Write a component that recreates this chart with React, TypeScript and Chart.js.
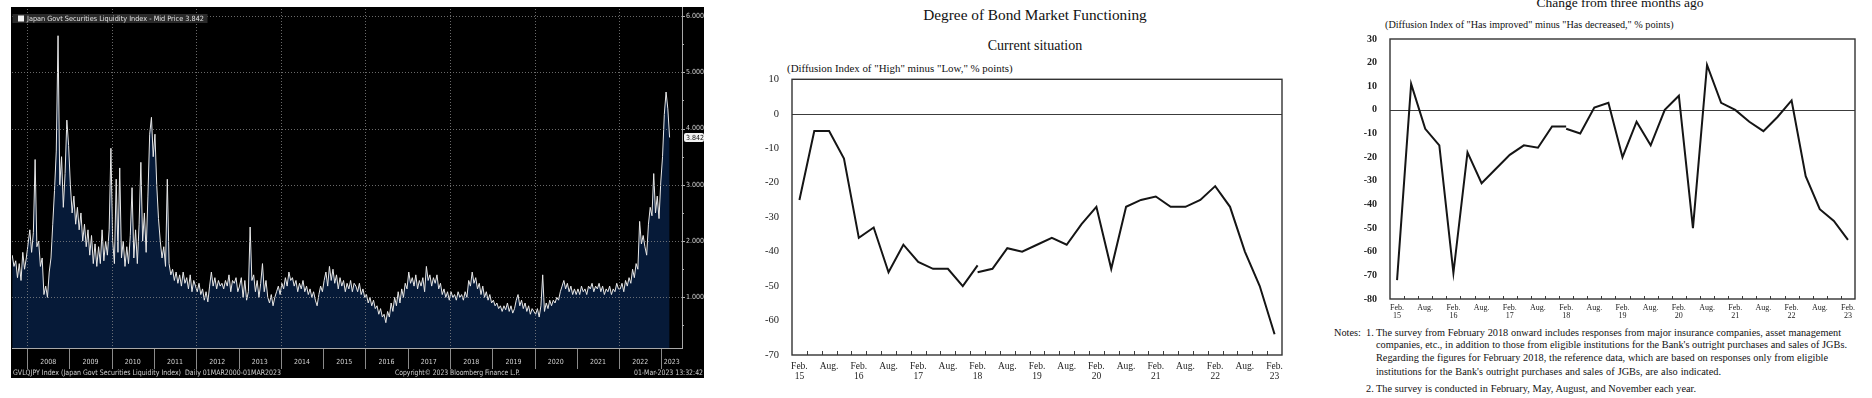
import React, { useEffect, useRef } from "react";
import { Chart, registerables } from "chart.js";

Chart.register(...registerables);

const SERIF = "'Liberation Serif', 'Times New Roman', serif";
const NARROW = "'Liberation Sans Narrow', 'DejaVu Sans Condensed', 'Liberation Sans', sans-serif";

// ---------- Panel 1: Bloomberg JGB liquidity index (semi-monthly readings) ----------
const LIQ_START = 2007.65;
const LIQ_STEP = 1 / 24;
const liquidityIndex = [
  1.75, 1.55, 1.65, 1.35, 1.6, 1.3, 1.8, 1.5, 1.7,
  1.95, 2.2, 1.8, 2.15, 3.45, 1.9, 2.0, 1.55, 1.7, 1.05, 1.2, 1.0, 1.45, 1.7, 2.3, 2.9, 3.6, 5.65, 3.0, 3.5, 2.6, 3.2, 4.15, 3.7,
  3.0, 2.5, 2.8, 2.3, 2.6, 2.2, 2.5, 2.0, 2.3, 1.9, 2.2, 1.75, 2.1, 1.6, 1.95, 1.55, 1.9, 1.6, 2.2, 1.65, 2.0, 1.75, 2.2, 3.65,
  2.0, 1.6, 3.1, 1.8, 3.3, 1.7, 2.0, 1.55, 1.9, 1.6, 2.1, 2.95, 1.7, 2.2, 1.6, 2.3, 3.4, 2.0, 2.5, 1.8, 2.8, 3.9, 4.2, 3.5,
  3.9, 3.0, 2.4, 2.0, 1.7, 1.9, 1.55, 3.1, 1.6, 1.4, 1.5, 1.3, 1.45, 1.25, 1.4, 1.2, 1.45, 1.25, 1.35, 1.15, 1.4, 1.1, 1.3, 1.2,
  1.1, 1.25, 1.05, 1.15, 0.95, 1.1, 0.92, 1.2, 1.45, 1.2, 1.35, 1.15, 1.3, 1.2, 1.25, 1.15, 1.3, 1.2, 1.4, 1.1, 1.3, 1.25, 1.35, 1.1,
  1.2, 1.35, 1.0, 1.3, 0.95, 1.1, 2.25, 1.3, 1.4, 1.1, 1.3, 1.0, 1.25, 1.6, 1.1, 1.3, 1.0, 0.9, 1.05, 0.85, 1.0, 1.1, 1.2, 1.05,
  1.25, 1.15, 1.35, 1.2, 1.45, 1.3, 1.35, 1.2, 1.3, 1.1, 1.25, 1.15, 1.3, 1.1, 1.2, 1.05, 1.15, 1.0, 1.1, 0.95, 0.85, 1.05, 1.2, 1.1,
  1.3, 1.45, 1.2, 1.55, 1.3, 1.5, 1.25, 1.4, 1.15, 1.35, 1.2, 1.3, 1.1, 1.25, 1.15, 1.3, 1.1, 1.25, 1.2, 1.1, 1.25, 1.05, 1.15, 1.0,
  1.05, 0.9, 1.0, 0.85, 0.95, 0.8, 0.85, 0.7, 0.8, 0.65, 0.7, 0.55, 0.75, 0.65, 0.9, 0.75, 1.0, 0.85, 1.1, 0.9, 1.15, 1.0, 1.25, 1.15,
  1.45, 1.25, 1.35, 1.2, 1.4, 1.15, 1.3, 1.2, 1.35, 1.1, 1.55, 1.3, 1.4, 1.2, 1.35, 1.25, 1.4, 1.15, 1.25, 1.05, 1.15, 1.0, 1.1, 0.95,
  1.1, 1.0, 1.05, 0.95, 1.1, 1.0, 1.05, 0.95, 1.1, 1.0, 1.3, 1.2, 1.45, 1.25, 1.35, 1.15, 1.25, 1.05, 1.2, 1.0, 1.1, 0.95, 1.05, 0.9,
  0.95, 0.85, 0.9, 0.8, 0.85, 0.75, 0.85, 0.78, 0.9, 0.75, 0.85, 0.72, 0.8, 0.95, 1.05, 0.85, 0.95, 0.8, 0.9, 0.75, 0.85, 0.7, 0.8, 0.75,
  0.7, 0.8, 0.65, 0.85, 1.4, 0.75, 0.9, 0.8, 0.95, 0.85, 0.95, 0.9, 1.0, 0.95, 1.1, 1.2, 1.3, 1.15, 1.25, 1.1, 1.2, 1.05, 1.15, 1.05,
  1.15, 1.05, 1.2, 1.1, 1.15, 1.05, 1.2, 1.15, 1.25, 1.1, 1.2, 1.15, 1.25, 1.1, 1.2, 1.05, 1.15, 1.1, 1.2, 1.05, 1.15, 1.1, 1.25, 1.15,
  1.15, 1.25, 1.1, 1.3, 1.2, 1.35, 1.25, 1.5, 1.35, 1.6, 1.5, 2.35, 1.95, 2.1, 1.9, 1.75, 2.3, 2.6, 2.45, 3.2, 2.5, 2.8, 2.4, 3.05, 3.5, 4.25, 4.65, 4.35, 3.842,
];
const LIQ_LAST = 3.842;
const liqYTicks = [1, 2, 3, 4, 5, 6];
const liqMinorTicks = [0.5, 1.5, 2.5, 3.5, 4.5, 5.5];
const liqYears = [2008, 2009, 2010, 2011, 2012, 2013, 2014, 2015, 2016, 2017, 2018, 2019, 2020, 2021, 2022, 2023];
const liqGridYears = [2008, 2010, 2012, 2014, 2016, 2018, 2020, 2022];
const LIQ_X_MIN = 2007.645;
const LIQ_X_MAX = 2023.485;
const liqLegend = "Japan Govt Securities Liquidity Index - Mid Price 3.842";
const liqFooterLeft = "GVLQJPY Index (Japan Govt Securities Liquidity Index)  Daily 01MAR2000-01MAR2023";
const liqFooterMid = "Copyright\u00A9 2023 Bloomberg Finance L.P.";
const liqFooterRight = "01-Mar-2023 13:32:42";

// ---------- Panels 2 & 3: Bank of Japan bond market survey ----------
const surveyTickLabels: (string | string[])[] = [
  ["Feb.", "15"], "", "Aug.", "",
  ["Feb.", "16"], "", "Aug.", "",
  ["Feb.", "17"], "", "Aug.", "",
  ["Feb.", "18"], "", "Aug.", "",
  ["Feb.", "19"], "", "Aug.", "",
  ["Feb.", "20"], "", "Aug.", "",
  ["Feb.", "21"], "", "Aug.", "",
  ["Feb.", "22"], "", "Aug.", "",
  ["Feb.", "23"],
];
const BASIS_BREAK = 12; // Feb. 2018

// Current situation: Feb.15 .. Feb.18 (old basis), Feb.18 .. Feb.23 (new basis)
const currentOld = [-25, -5, -5, -13, -36, -33, -46, -38, -43, -45, -45, -50, -44];
const currentNew = [-46, -45, -39, -40, -38, -36, -38, -32, -27, -45, -27, -25, -24, -27, -27, -25, -21, -27, -40, -50, -64];

// Change from three months ago
const changeOld = [-72, 11, -8, -15, -69, -18, -31, -25, -19, -15, -16, -7, -7];
const changeNew = [-8, -10, 1, 3, -20, -5, -15, 0, 6, -50, 19, 3, 0, -5, -9, -3, 4, -28, -42, -47, -55];

const notesLines = [
  "The survey from February 2018 onward includes responses from major insurance companies, asset  management",
  "companies, etc., in addition to those from eligible institutions for the Bank's outright purchases and sales of JGBs.",
  "Regarding the figures for February 2018, the reference data, which are based on responses only from eligible",
  "institutions for the Bank's outright purchases and sales of JGBs, are also indicated.",
];
const note2 = "The survey is conducted in February, May, August, and November each year.";

// ---------- Components ----------
function fitText(ctx: CanvasRenderingContext2D, text: string, x: number, y: number, width: number) {
  const w = ctx.measureText(text).width || 1;
  ctx.save();
  ctx.translate(x, y);
  ctx.scale(width / w, 1);
  ctx.textAlign = "left";
  ctx.fillText(text, 0, 0);
  ctx.restore();
}

function LiquidityChart() {
  const ref = useRef<HTMLCanvasElement>(null);
  useEffect(() => {
    const canvas = ref.current!;
    const points = liquidityIndex.map((v, i) => ({ x: LIQ_START + i * LIQ_STEP, y: v }));

    const bg = {
      id: "bbgBg",
      beforeDraw(chart: any) {
        const ctx = chart.ctx;
        ctx.save();
        ctx.fillStyle = "#000";
        ctx.fillRect(0, 0, chart.width, chart.height);
        ctx.restore();
      },
    };

    const axes = {
      id: "bbgAxes",
      afterDatasetsDraw(chart: any) {
        const { ctx, chartArea: ca, scales } = chart;
        const xs = scales.x;
        const ys = scales.y;
        ctx.save();
        // dotted grid
        ctx.strokeStyle = "rgba(140,140,140,0.75)";
        ctx.lineWidth = 1;
        ctx.setLineDash([1, 2]);
        ctx.beginPath();
        liqYTicks.forEach((v) => {
          const y = Math.round(ys.getPixelForValue(v)) + 0.5;
          ctx.moveTo(ca.left, y);
          ctx.lineTo(ca.right, y);
        });
        liqGridYears.forEach((yr) => {
          const x = Math.round(xs.getPixelForValue(yr)) + 0.5;
          ctx.moveTo(x, ca.top);
          ctx.lineTo(x, ca.bottom);
        });
        ctx.stroke();
        ctx.setLineDash([]);

        // axis lines
        ctx.strokeStyle = "#a8a8a8";
        ctx.beginPath();
        ctx.moveTo(Math.round(ca.right) + 0.5, 0);
        ctx.lineTo(Math.round(ca.right) + 0.5, ca.bottom + 1);
        ctx.moveTo(ca.left, Math.round(ca.bottom) + 0.5);
        ctx.lineTo(ca.right, Math.round(ca.bottom) + 0.5);
        ctx.stroke();

        // year separators + labels
        ctx.strokeStyle = "#8a8a8a";
        ctx.beginPath();
        liqYears.forEach((yr) => {
          const x = Math.round(xs.getPixelForValue(yr)) + 0.5;
          ctx.moveTo(x, ca.bottom + 1);
          ctx.lineTo(x, ca.bottom + 21);
        });
        ctx.stroke();
        ctx.fillStyle = "#d0d0d0";
        ctx.font = `7px ${NARROW}`;
        ctx.textAlign = "center";
        ctx.textBaseline = "middle";
        liqYears.forEach((yr) => {
          const end = Math.min(yr + 1, LIQ_X_MAX);
          const cx = (xs.getPixelForValue(yr) + xs.getPixelForValue(end)) / 2;
          ctx.fillText(String(yr), cx, ca.bottom + 14);
        });

        // footer
        ctx.font = `7.5px ${NARROW}`;
        fitText(ctx, liqFooterLeft, 2, chart.height - 5, 268);
        fitText(ctx, liqFooterMid, 384, chart.height - 5, 125);
        fitText(ctx, liqFooterRight, 623, chart.height - 5, 69);

        // right axis ticks and labels
        ctx.strokeStyle = "#b0b0b0";
        ctx.beginPath();
        liqYTicks.forEach((v) => {
          const y = Math.round(ys.getPixelForValue(v)) + 0.5;
          ctx.moveTo(ca.right, y);
          ctx.lineTo(ca.right + 3, y);
        });
        liqMinorTicks.forEach((v) => {
          const y = Math.round(ys.getPixelForValue(v)) + 0.5;
          ctx.moveTo(ca.right, y);
          ctx.lineTo(ca.right + 2, y);
        });
        ctx.stroke();
        ctx.font = `7px ${NARROW}`;
        ctx.textAlign = "left";
        ctx.fillStyle = "#d0d0d0";
        liqYTicks.forEach((v) => {
          ctx.fillText(v.toFixed(3), ca.right + 4, ys.getPixelForValue(v));
        });

        // last price badge
        const by = ys.getPixelForValue(LIQ_LAST);
        ctx.fillStyle = "#f2f2f2";
        ctx.beginPath();
        (ctx as any).roundRect(ca.right + 2, by - 4.5, 20, 9, 2);
        ctx.fill();
        ctx.fillStyle = "#111";
        ctx.fillText(LIQ_LAST.toFixed(3), ca.right + 4, by + 0.5);

        // legend
        ctx.fillStyle = "#2a2a2a";
        ctx.fillRect(1.5, 7, 195, 9);
        ctx.fillStyle = "#f4f4f4";
        ctx.fillRect(7, 8.5, 6, 6);
        ctx.fillStyle = "#e2e2e2";
        ctx.font = `7.2px ${NARROW}`;
        fitText(ctx, liqLegend, 16, 11.8, 177);
        ctx.restore();
      },
    };

    const chart = new Chart(canvas, {
      type: "line",
      data: {
        datasets: [
          {
            data: points,
            borderColor: "#e8e8e8",
            borderWidth: 1,
            backgroundColor: "#061a38",
            fill: "start",
            pointRadius: 0,
            tension: 0,
          },
        ],
      },
      options: {
        responsive: false,
        maintainAspectRatio: false,
        animation: false,
        layout: { padding: { left: 1, top: 2, right: 22, bottom: 30 } },
        plugins: { legend: { display: false }, tooltip: { enabled: false } },
        scales: {
          x: { type: "linear", min: LIQ_X_MIN, max: LIQ_X_MAX, display: false },
          y: { type: "linear", min: 0.1, max: 6.125, display: false },
        },
      },
      plugins: [bg, axes],
    } as any);
    return () => chart.destroy();
  }, []);
  return (
    <canvas
      ref={ref}
      width={693}
      height={371}
      style={{ position: "absolute", left: 11, top: 7, width: 693, height: 371 }}
    />
  );
}

type DIProps = {
  left: number;
  top: number;
  width: number;
  height: number;
  padTop: number;
  padRight: number;
  yWidth: number;
  xHeight: number;
  min: number;
  max: number;
  oldVals: number[];
  newVals: number[];
  yFont: any;
  xFont: any;
  xPad: number;
  tickLen: number;
};

function DIChart(p: DIProps) {
  const ref = useRef<HTMLCanvasElement>(null);
  useEffect(() => {
    const canvas = ref.current!;
    const n = surveyTickLabels.length;
    const oldSeries = surveyTickLabels.map((_, i) => (i < p.oldVals.length ? p.oldVals[i] : null));
    const newSeries = surveyTickLabels.map((_, i) => (i >= BASIS_BREAK ? p.newVals[i - BASIS_BREAK] : null));

    const frame = {
      id: "frame",
      beforeDatasetsDraw(chart: any) {
        const { ctx, chartArea: ca, scales } = chart;
        ctx.save();
        ctx.strokeStyle = "#3c3c3c";
        ctx.lineWidth = 1;
        const y0 = Math.round(scales.y.getPixelForValue(0)) + 0.5;
        ctx.beginPath();
        ctx.moveTo(ca.left, y0);
        ctx.lineTo(ca.right, y0);
        ctx.stroke();
        ctx.beginPath();
        for (let i = 0; i < n - 1; i++) {
          const x = Math.round((scales.x.getPixelForValue(i) + scales.x.getPixelForValue(i + 1)) / 2) + 0.5;
          ctx.moveTo(x, ca.bottom);
          ctx.lineTo(x, ca.bottom - p.tickLen);
        }
        ctx.stroke();
        ctx.lineWidth = 1.4;
        ctx.strokeStyle = "#333";
        ctx.strokeRect(ca.left, ca.top, ca.right - ca.left, ca.bottom - ca.top);
        ctx.restore();
      },
    };

    const lineStyle = {
      borderColor: "#151515",
      borderWidth: 2,
      pointRadius: 0,
      tension: 0,
      fill: false,
      spanGaps: false,
    };

    const chart = new Chart(canvas, {
      type: "line",
      data: {
        labels: surveyTickLabels,
        datasets: [
          { ...lineStyle, data: oldSeries },
          { ...lineStyle, data: newSeries },
        ],
      },
      options: {
        responsive: false,
        maintainAspectRatio: false,
        animation: false,
        layout: { padding: { left: 0, top: p.padTop, right: p.padRight, bottom: 0 } },
        plugins: { legend: { display: false }, tooltip: { enabled: false } },
        scales: {
          x: {
            type: "category",
            offset: true,
            grid: { display: false, drawTicks: false },
            border: { display: false },
            ticks: {
              autoSkip: false,
              maxRotation: 0,
              minRotation: 0,
              padding: p.xPad,
              color: "#222",
              font: p.xFont,
            },
            afterFit: (s: any) => {
              s.height = p.xHeight;
            },
          },
          y: {
            type: "linear",
            min: p.min,
            max: p.max,
            grid: { display: false, drawTicks: false },
            border: { display: false },
            ticks: { stepSize: 10, padding: 13, color: "#222", font: p.yFont },
            afterFit: (s: any) => {
              s.width = p.yWidth;
            },
          },
        },
      },
      plugins: [frame],
    } as any);
    return () => chart.destroy();
  }, []);
  return (
    <canvas
      ref={ref}
      width={p.width}
      height={p.height}
      style={{ position: "absolute", left: p.left, top: p.top, width: p.width, height: p.height }}
    />
  );
}

function Txt(props: {
  x: number;
  y: number;
  size: number;
  center?: boolean;
  bold?: boolean;
  color?: string;
  width?: number;
  children: React.ReactNode;
}) {
  const style: React.CSSProperties = {
    position: "absolute",
    left: props.x,
    top: props.y - props.size / 2,
    fontSize: props.size,
    lineHeight: `${props.size}px`,
    fontFamily: SERIF,
    fontWeight: props.bold ? "bold" : "normal",
    color: props.color || "#111",
    whiteSpace: props.width ? "nowrap" : "pre",
    transform: props.center ? "translateX(-50%)" : undefined,
  };
  if (props.width) {
    style.width = props.width;
    style.textAlign = "justify";
    (style as any).textAlignLast = "justify";
  }
  return <div style={style}>{props.children}</div>;
}

export default function App() {
  const NOTE = 10.3;
  return (
    <div
      style={{
        position: "absolute",
        left: 0,
        top: 0,
        width: 1872,
        height: 398,
        background: "#fff",
        overflow: "hidden",
      }}
    >
      <LiquidityChart />

      <Txt x={1035} y={14.3} size={15.3} center>
        Degree of Bond Market Functioning
      </Txt>
      <Txt x={1035} y={46.2} size={14} center>
        Current situation
      </Txt>
      <Txt x={787} y={68.5} size={10.9}>
        (Diffusion Index of "High" minus "Low," % points)
      </Txt>
      <DIChart
        left={740}
        top={60}
        width={560}
        height={338}
        padTop={16}
        padRight={18}
        yWidth={52}
        xHeight={43}
        min={-70}
        max={10}
        oldVals={currentOld}
        newVals={currentNew}
        yFont={{ family: SERIF, size: 10.5 }}
        xFont={{ family: SERIF, size: 9.5, lineHeight: 1.05 }}
        xPad={7}
        tickLen={4}
      />

      <Txt x={1620} y={3.2} size={13.5} center>
        Change from three months ago
      </Txt>
      <Txt x={1385} y={25.3} size={10.2}>
        (Diffusion Index of "Has improved" minus "Has decreased," % points)
      </Txt>
      <DIChart
        left={1340}
        top={20}
        width={532}
        height={300}
        padTop={12}
        padRight={17}
        yWidth={50}
        xHeight={21}
        min={-80}
        max={30}
        oldVals={changeOld}
        newVals={changeNew}
        yFont={{ family: SERIF, size: 10, weight: "bold" }}
        xFont={{ family: SERIF, size: 8, lineHeight: 1.0 }}
        xPad={5}
        tickLen={3}
      />

      <Txt x={1334} y={332.7} size={NOTE}>
        Notes:
      </Txt>
      <Txt x={1366} y={332.7} size={NOTE}>
        1.
      </Txt>
      <Txt x={1376} y={332.7} size={NOTE} width={465}>
        {notesLines[0]}
      </Txt>
      <Txt x={1376} y={345.5} size={NOTE} width={471}>
        {notesLines[1]}
      </Txt>
      <Txt x={1376} y={358.5} size={NOTE} width={452}>
        {notesLines[2]}
      </Txt>
      <Txt x={1376} y={371.7} size={NOTE} width={345}>
        {notesLines[3]}
      </Txt>
      <Txt x={1366} y={389.2} size={NOTE}>
        2.
      </Txt>
      <Txt x={1376} y={389.2} size={NOTE} width={320}>
        {note2}
      </Txt>
    </div>
  );
}
